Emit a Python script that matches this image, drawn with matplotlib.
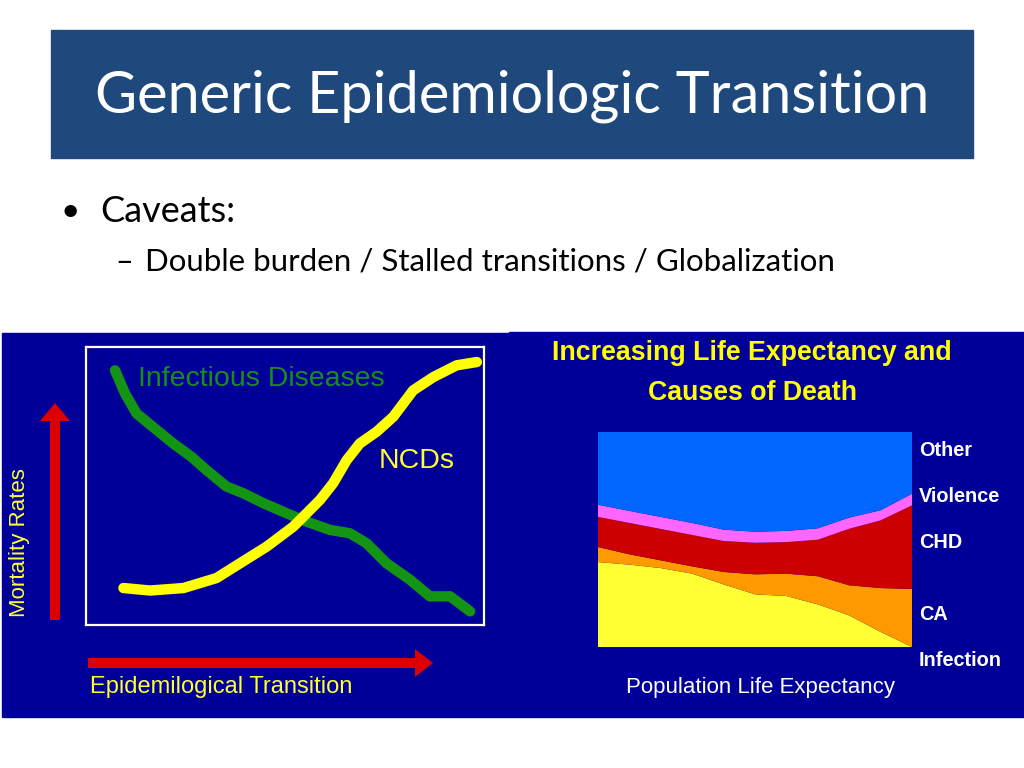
import matplotlib

matplotlib.use("Agg")
import matplotlib.pyplot as plt
from matplotlib.patches import Rectangle, FancyArrow

W, H = 1024, 768

# Left chart: schematic mortality curves (0-100 inside the white frame)
inf_x = [7.3, 9.8, 12.7, 17.8, 21.9, 26.5, 30.3, 35.3, 39.5, 44.6, 50.4,
         55.4, 61.3, 66.3, 70.5, 75.5, 81.4, 86.4, 91.5, 96.5]
inf_y = [91.6, 83.3, 76.1, 70.1, 65.3, 60.5, 55.7, 49.8, 47.4, 43.8, 40.2,
         37.2, 34.2, 33.0, 29.4, 22.2, 16.3, 10.3, 10.3, 4.9]
ncd_x = [9.4, 16.1, 24.5, 32.8, 38.7, 45.4, 52.1, 58.8, 62.1, 65.5, 68.8,
         73.0, 77.2, 82.2, 87.3, 93.1, 98.2]
ncd_y = [13.3, 12.4, 13.3, 16.9, 22.2, 28.2, 35.4, 45.0, 51.0, 59.3, 65.3,
         69.5, 74.9, 84.4, 89.2, 93.4, 94.6]

# Right chart: share of deaths by cause along life expectancy
life_exp = list(range(11))
infection = [0.395, 0.383, 0.367, 0.341, 0.291, 0.245, 0.237, 0.198, 0.147, 0.070, 0.0]
cancer = [0.070, 0.048, 0.036, 0.034, 0.058, 0.093, 0.104, 0.131, 0.140, 0.204, 0.270]
chd = [0.140, 0.146, 0.146, 0.146, 0.144, 0.147, 0.147, 0.170, 0.263, 0.315, 0.389]
violence = [0.057, 0.056, 0.056, 0.056, 0.053, 0.051, 0.052, 0.053, 0.052, 0.047, 0.054]
other = [0.338, 0.367, 0.395, 0.423, 0.454, 0.464, 0.460, 0.448, 0.398, 0.364, 0.287]
cause_labels = ["Other", "Violence", "CHD", "CA", "Infection"]
cause_label_y = [450, 497, 543, 615, 660]

NAVY = "#000099"
SANS = ["Liberation Sans", "DejaVu Sans"]
SLIDE = ["Lato", "Open Sans", "DejaVu Sans"]


def px_axes(fig, x0, y0, x1, y1):
    return fig.add_axes([x0 / W, 1 - y1 / H, (x1 - x0) / W, (y1 - y0) / H])


fig = plt.figure(figsize=(W / 100, H / 100), dpi=100, facecolor="white")
slide = fig.add_axes([0, 0, 1, 1])
slide.set_xlim(0, W); slide.set_ylim(H, 0); slide.axis("off")

# title bar + bullets
slide.add_patch(Rectangle((51, 30), 922, 128, color="#1F497D"))
slide.text(512, 96, "Generic Epidemiologic Transition", color="white",
           fontsize=41.5, family=SLIDE, ha="center", va="center")
slide.text(60, 212, "•", fontsize=24, family=SLIDE, va="center")
slide.text(100, 212, "Caveats:", fontsize=26, family=SLIDE, va="center")
slide.text(115, 262, "–", fontsize=22, family=SLIDE, va="center")
slide.text(145, 262, "Double burden / Stalled transitions / Globalization",
           fontsize=22.5, family=SLIDE, va="center")

# picture backgrounds
slide.add_patch(Rectangle((2, 333), 507, 384, color=NAVY))
slide.add_patch(Rectangle((509, 332), 515, 385, color=NAVY))

# left picture: arrows and labels
slide.add_patch(FancyArrow(55, 620, 0, -217, width=10, head_width=30,
                           head_length=18, length_includes_head=True,
                           color="#DD0000", lw=0))
slide.add_patch(FancyArrow(88, 663, 345, 0, width=10, head_width=28,
                           head_length=18, length_includes_head=True,
                           color="#DD0000", lw=0))
slide.text(20, 543, "Mortality Rates", rotation=90, color="#FFFF33",
           fontsize=16, family=SANS, ha="center", va="center")
slide.text(90, 687, "Epidemilogical Transition", color="#FFFF33",
           fontsize=17, family=SANS, va="center")

ax = px_axes(fig, 86, 347, 484, 625)
ax.set_facecolor("none")
ax.set_xlim(0, 100); ax.set_ylim(0, 100)
ax.set_xticks([]); ax.set_yticks([])
for sp in ax.spines.values():
    sp.set_color("white"); sp.set_linewidth(1.6)
ax.plot(inf_x, inf_y, color="#139413", lw=7.5, solid_capstyle="round",
        solid_joinstyle="round")
ax.plot(ncd_x, ncd_y, color="#FFFF00", lw=7.5, solid_capstyle="round",
        solid_joinstyle="round")
ax.text(13, 88.5, "Infectious Diseases", color="#1A8C1A", fontsize=20.5,
        family=SANS, va="center")
ax.text(73.5, 59, "NCDs", color="#FFFF33", fontsize=20.5, family=SANS,
        va="center")

# right picture: stacked causes of death
slide.text(752, 353, "Increasing Life Expectancy and", color="#FFFF00",
           fontsize=19.3, fontweight="bold", family=SANS, ha="center",
           va="center")
slide.text(752, 393, "Causes of Death", color="#FFFF00", fontsize=19.3,
           fontweight="bold", family=SANS, ha="center", va="center")
for lab, y in zip(cause_labels, cause_label_y):
    slide.text(919, y, lab, color="white", fontsize=14.3, fontweight="bold",
               family=SANS, va="center")
slide.text(760, 687, "Population Life Expectancy", color="white",
           fontsize=16, family=SANS, ha="center", va="center")

ax2 = px_axes(fig, 598, 432, 912, 647)
ax2.set_facecolor("none")
ax2.stackplot(life_exp, infection, cancer, chd, violence, other,
              colors=["#FFFF33", "#FF9900", "#CC0000", "#FF66FF", "#0066FF"],
              lw=0)
ax2.set_xlim(0, 10); ax2.set_ylim(0, 1)
ax2.axis("off")

fig.savefig("out.png", dpi=100, facecolor="white")
